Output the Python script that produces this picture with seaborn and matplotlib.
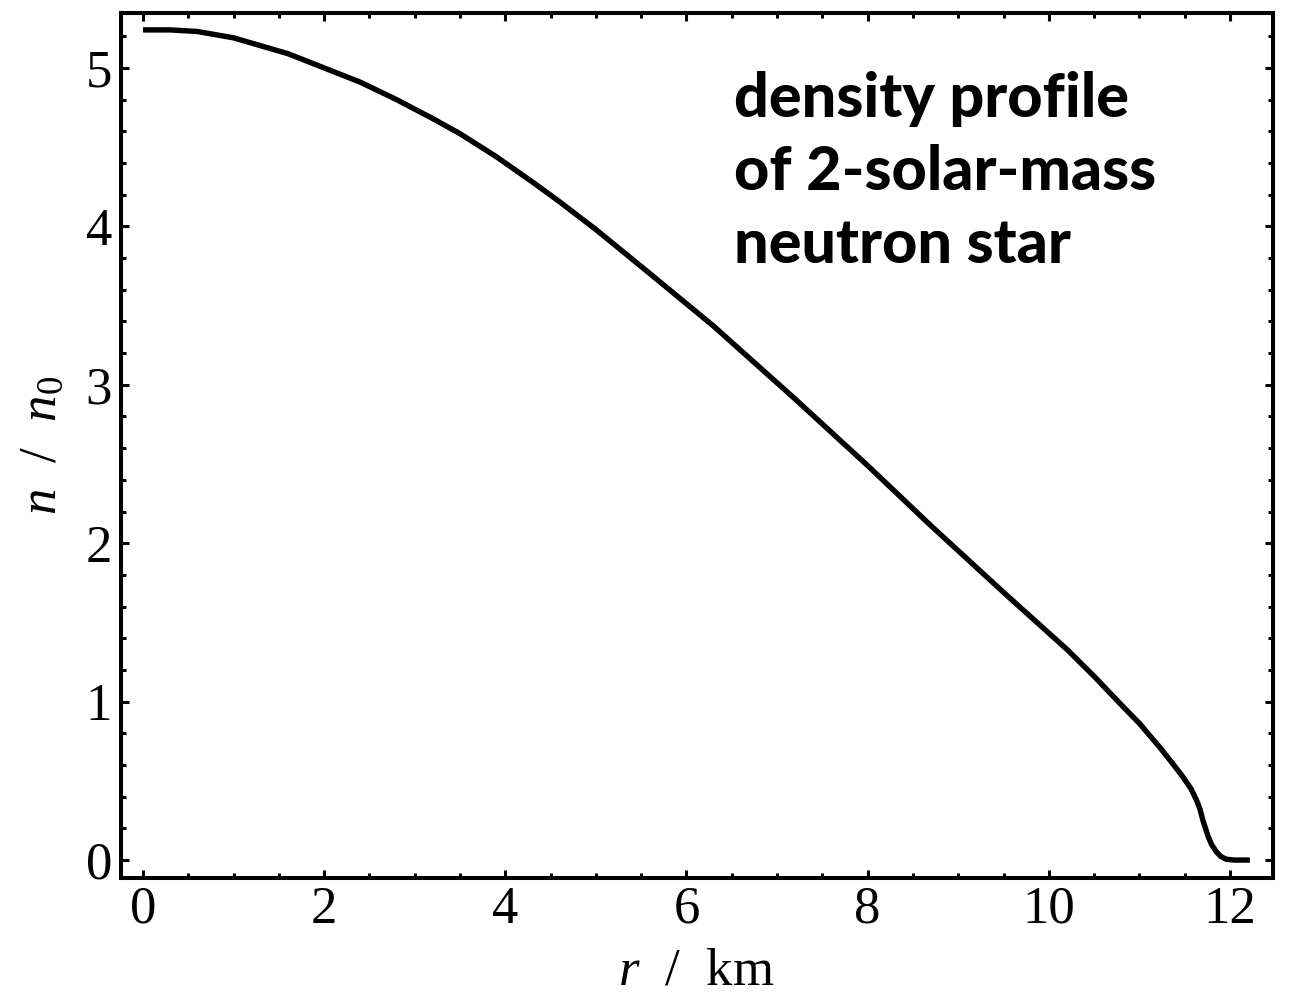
import matplotlib
matplotlib.use("Agg")
import matplotlib.pyplot as plt
from matplotlib.ticker import MultipleLocator
import numpy as np
import pandas as pd
import seaborn as sns

# Radial density profile of a 2-solar-mass neutron star (n / n0 versus r in km)
radius_km = [0.0, 0.3, 0.6, 1.0, 1.3, 1.6, 2.0, 2.4, 2.8, 3.2, 3.5, 3.9, 4.3,
             4.6, 5.0, 5.6, 6.3, 7.2, 8.0, 8.7, 9.5, 10.2, 10.5, 10.8, 11.0,
             11.22, 11.38, 11.48, 11.57, 11.63, 11.67, 11.70, 11.73, 11.76,
             11.80, 11.85, 11.90, 11.96, 12.05, 12.22]
density_ratio = [5.24, 5.24, 5.23, 5.19, 5.14, 5.09, 5.00, 4.91, 4.80, 4.68,
                 4.585, 4.44, 4.28, 4.155, 3.98, 3.70, 3.37, 2.91, 2.49, 2.11,
                 1.69, 1.33, 1.16, 0.98, 0.863, 0.715, 0.60, 0.525, 0.45,
                 0.379, 0.32, 0.253, 0.20, 0.147, 0.095, 0.052, 0.022, 0.005,
                 0.0, 0.0]

x_ticks = [0, 2, 4, 6, 8, 10, 12]
y_ticks = [0, 1, 2, 3, 4, 5]
annotation_lines = ["density profile", "of 2-solar-mass", "neutron star"]

sns.set_style("ticks")
plt.rcParams["font.family"] = ["Liberation Serif", "DejaVu Serif"]
plt.rcParams["mathtext.fontset"] = "custom"
plt.rcParams["mathtext.rm"] = "Liberation Serif"
plt.rcParams["mathtext.it"] = "Liberation Serif:italic"
plt.rcParams["text.color"] = "black"
plt.rcParams["axes.labelcolor"] = "black"
plt.rcParams["xtick.color"] = "black"
plt.rcParams["ytick.color"] = "black"

df = pd.DataFrame({"r": radius_km, "n": density_ratio})

W, H = 1289, 998
fig = plt.figure(figsize=(W / 100, H / 100), dpi=100)
left, right, top, bottom = 120.5, 1273.0, 12.8, 877.5
ax = fig.add_axes([left / W, 1 - bottom / H, (right - left) / W, (bottom - top) / H])

sns.lineplot(data=df, x="r", y="n", color="black", linewidth=3.9,
             sort=False, estimator=None, ax=ax)
for ln in ax.get_lines():
    ln.set_solid_joinstyle("round")
    ln.set_solid_capstyle("butt")

ax.set_xlim(-0.248, 12.475)
ax.set_ylim(-0.110, 5.348)
ax.set_xticks(x_ticks)
ax.set_yticks(y_ticks)
ax.xaxis.set_minor_locator(MultipleLocator(0.5))
ax.yaxis.set_minor_locator(MultipleLocator(0.2))

for s in ax.spines.values():
    s.set_visible(True)
    s.set_linewidth(2.9)
    s.set_color("black")

ax.tick_params(which="both", direction="in", top=True, right=True,
               color="black", labelcolor="black", labelsize=38)
ax.tick_params(which="major", length=6, width=2.2, pad=6)
ax.tick_params(which="minor", length=3.5, width=2.2)

ax.set_xlabel(r"$\mathit{r}$  /  km", fontsize=38, labelpad=10, color="black")
ax.set_ylabel(r"$\mathit{n}$  /  $\mathit{n}_0$", fontsize=38, labelpad=14,
              color="black")

# three-line annotation, one baseline per line (axes fraction)
first_baseline = 0.8799
line_step = 0.0845
for i, line in enumerate(annotation_lines):
    ax.text(0.5323, first_baseline - i * line_step, line, transform=ax.transAxes,
            ha="left", va="baseline", fontsize=44, fontweight="black",
            color="black", family=["Lato", "DejaVu Sans"])

fig.savefig("out.png", dpi=100, facecolor="white")
